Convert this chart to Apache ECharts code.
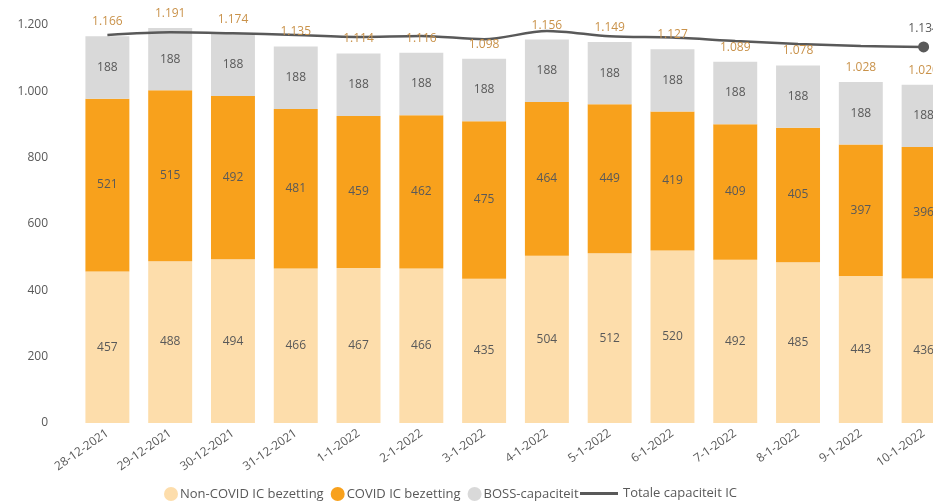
<!DOCTYPE html>
<html><head><meta charset="utf-8">
<script src="https://cdn.jsdelivr.net/npm/echarts@6/dist/echarts.min.js"></script>
<style>html,body{margin:0;padding:0;background:#fff}#c{width:933px;height:502px}</style>
</head><body><div id="c"></div>
<script>
const categories = ['28-12-2021','29-12-2021','30-12-2021','31-12-2021','1-1-2022','2-1-2022','3-1-2022','4-1-2022','5-1-2022','6-1-2022','7-1-2022','8-1-2022','9-1-2022','10-1-2022'];
const nonCovid = [457,488,494,466,467,466,435,504,512,520,492,485,443,436];
const covid = [521,515,492,481,459,462,475,464,449,419,409,405,397,396];
const boss = [188,188,188,188,188,188,188,188,188,188,188,188,188,188];
const totaleCapaciteit = [1170,1178,1175,1170,1164,1167,1157,1182,1166,1162,1152,1143,1137,1134];
const yTicks = [0,200,400,600,800,1000,1200];

const totals = nonCovid.map((v,i)=>v+covid[i]+boss[i]);
const fmt = v => { const s = String(Math.round(v)); return s.length>3 ? s.slice(0,-3)+'.'+s.slice(-3) : s; };
const FONT = 'Open Sans';
const txt = '#595959';
const lineData = totaleCapaciteit.map((v,i)=> i===totaleCapaciteit.length-1 ?
  {value:v, symbol:'circle', symbolSize:11, label:{show:true, position:'top', distance:7, color:txt, fontSize:12, fontFamily:FONT, formatter:p=>fmt(p.value)}} : v);

const chart = echarts.init(document.getElementById('c'));
const barLabel = {show:true, position:'inside', color:txt, fontSize:12, fontFamily:FONT};
chart.setOption({
  animation:false,
  textStyle:{fontFamily:FONT},
  grid:{left:76, top:25, width:879, height:398, containLabel:false, outerBoundsMode:'none'},
  legend:[{
    top:487, left:164, itemGap:7, itemWidth:14, itemHeight:14, padding:0,
    textStyle:{color:txt, fontSize:13, fontFamily:FONT, padding:[0,0,0,-3]},
    data:[
      {name:'Non-COVID IC bezetting', icon:'circle'},
      {name:'COVID IC bezetting', icon:'circle'},
      {name:'BOSS-capaciteit', icon:'circle'}
    ]
  },{
    top:487, left:580, itemWidth:38, itemHeight:14, padding:0,
    textStyle:{color:txt, fontSize:13, fontFamily:FONT},
    data:[{name:'Totale capaciteit IC', icon:'path://M0,6 L40,6 L40,9 L0,9 Z'}]
  }],
  xAxis:{type:'category', data:categories,
    axisLine:{show:false}, axisTick:{show:false},
    axisLabel:{rotate:35, color:txt, fontSize:12, fontFamily:FONT, margin:9, interval:0}},
  yAxis:{type:'value', min:yTicks[0], max:yTicks[yTicks.length-1], interval:200,
    axisLine:{show:false}, axisTick:{show:false}, splitLine:{show:false},
    axisLabel:{color:txt, fontSize:12, fontFamily:FONT, margin:28, formatter:v=>fmt(v)}},
  series:[
    {name:'Non-COVID IC bezetting', type:'bar', stack:'s', data:nonCovid, barCategoryGap:'30%',
     itemStyle:{color:'#FDDDAB'}, label:barLabel},
    {name:'COVID IC bezetting', type:'bar', stack:'s', data:covid,
     itemStyle:{color:'#F8A11C'}, label:barLabel},
    {name:'BOSS-capaciteit', type:'bar', stack:'s', data:boss,
     itemStyle:{color:'#D9D9D9'}, label:barLabel},
    {name:'Totaal', type:'line', data:totals, symbol:'circle', symbolSize:1,
     itemStyle:{color:'rgba(0,0,0,0)'}, lineStyle:{width:0, opacity:0},
     label:{show:true, position:'top', distance:8, color:'#C9924A', fontSize:12, fontFamily:FONT, formatter:p=>fmt(p.value)}, z:5},
    {name:'Totale capaciteit IC', type:'line', data:lineData, symbol:'none', smooth:0.3,
     itemStyle:{color:'#595959'}, lineStyle:{color:'#595959', width:2.5}, z:4}
  ]
});
</script></body></html>
